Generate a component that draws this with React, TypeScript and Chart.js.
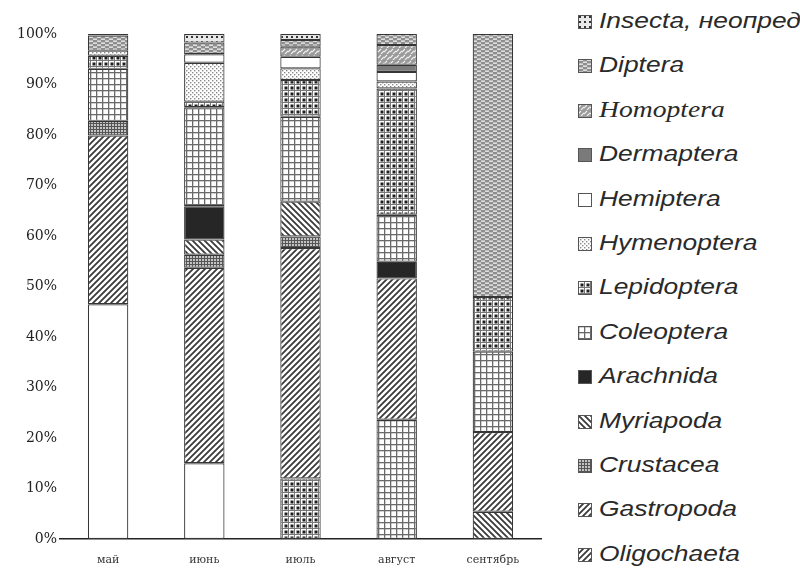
import React, { useEffect, useRef } from "react";
import { Chart, registerables } from "chart.js";
Chart.register(...registerables);

const categories = ["май", "июнь", "июль", "август", "сентябрь"];
const yTickValues = [0, 10, 20, 30, 40, 50, 60, 70, 80, 90, 100];

// stack order: bottom -> top
const oligochaeta = [46.5, 15.0, 12.0, 23.6, 5.4];
const gastropoda = [33.4, 38.7, 45.6, 28.0, 15.8];
const crustacea = [2.9, 2.6, 2.3, 0, 0];
const myriapoda = [0, 3.0, 6.9, 0, 0];
const arachnida = [0, 6.6, 0, 3.3, 0];
const coleoptera = [10.3, 19.6, 16.8, 9.3, 15.9];
const lepidoptera = [2.6, 1.1, 7.3, 25.0, 10.8];
const hymenoptera = [1.0, 7.7, 2.3, 1.4, 0];
const hemiptera = [0, 1.7, 2.3, 1.9, 0];
const dermaptera = [0, 0, 0, 1.4, 0];
const homoptera = [0, 0, 2.0, 3.9, 0];
const diptera = [3.0, 2.3, 1.3, 2.2, 52.1];
const insecta = [0.3, 1.7, 1.2, 0, 0];

const seriesNames = [
  "Oligochaeta", "Gastropoda", "Crustacea", "Myriapoda", "Arachnida", "Coleoptera",
  "Lepidoptera", "Hymenoptera", "Hemiptera", "Dermaptera", "Homoptera", "Diptera", "Insecta, неопред",
];
const seriesValues = [
  oligochaeta, gastropoda, crustacea, myriapoda, arachnida, coleoptera,
  lepidoptera, hymenoptera, hemiptera, dermaptera, homoptera, diptera, insecta,
];
const seriesPatterns = [
  "white", "hatchF", "fineGrid", "hatchB", "black", "grid",
  "checker", "dots", "white", "gray", "homo", "wave", "insecta",
];
const legendPatterns = [
  "hatchF", "hatchF", "fineGrid", "hatchB", "black", "grid",
  "checker", "dots", "white", "gray", "homo", "wave", "insecta",
];
// the scan shows the bottom segment filled differently in each bar
const oligochaetaBarPatterns = ["white", "white", "checker", "grid", "hatchB"];

function tile(w: number, h: number, draw: (c: CanvasRenderingContext2D) => void) {
  const cv = document.createElement("canvas");
  cv.width = w;
  cv.height = h;
  const c = cv.getContext("2d")!;
  draw(c);
  return c.createPattern(cv, "repeat")!;
}

function makePattern(kind: string): CanvasPattern | string {
  switch (kind) {
    case "white":
      return "#ffffff";
    case "black":
      return "#262626";
    case "gray":
      return "#7a7a7a";
    case "hatchF":
      return tile(6, 6, (c) => {
        c.fillStyle = "#fff"; c.fillRect(0, 0, 6, 6);
        c.strokeStyle = "#3a3a3a"; c.lineWidth = 1.8;
        c.beginPath();
        c.moveTo(-1, 7); c.lineTo(7, -1);
        c.moveTo(-1, 1); c.lineTo(1, -1);
        c.moveTo(5, 7); c.lineTo(7, 5);
        c.stroke();
      });
    case "hatchB":
      return tile(6, 6, (c) => {
        c.fillStyle = "#fff"; c.fillRect(0, 0, 6, 6);
        c.strokeStyle = "#3a3a3a"; c.lineWidth = 1.8;
        c.beginPath();
        c.moveTo(-1, -1); c.lineTo(7, 7);
        c.moveTo(5, -1); c.lineTo(7, 1);
        c.moveTo(-1, 5); c.lineTo(1, 7);
        c.stroke();
      });
    case "fineGrid":
      return tile(3, 3, (c) => {
        c.fillStyle = "#c4c4c4"; c.fillRect(0, 0, 3, 3);
        c.fillStyle = "#555"; c.fillRect(0, 0, 3, 1); c.fillRect(0, 0, 1, 3);
      });
    case "grid":
      return tile(6, 6, (c) => {
        c.fillStyle = "#fff"; c.fillRect(0, 0, 6, 6);
        c.fillStyle = "#6a6a6a"; c.fillRect(0, 0, 6, 1.3); c.fillRect(0, 0, 1.3, 6);
      });
    case "checker":
      return tile(6, 6, (c) => {
        c.fillStyle = "#fff"; c.fillRect(0, 0, 6, 6);
        c.fillStyle = "#777"; c.fillRect(0, 0, 6, 1); c.fillRect(0, 0, 1, 6);
        c.fillStyle = "#1e1e1e"; c.fillRect(2.5, 2.5, 3, 3);
      });
    case "dots":
      return tile(4, 4, (c) => {
        c.fillStyle = "#fff"; c.fillRect(0, 0, 4, 4);
        c.fillStyle = "#8a8a8a"; c.fillRect(0, 0, 1.4, 1.4); c.fillRect(2, 2, 1.4, 1.4);
      });
    case "wave":
      return tile(8, 4, (c) => {
        c.fillStyle = "#8e8e8e"; c.fillRect(0, 0, 8, 4);
        c.fillStyle = "#f2f2f2"; c.fillRect(1, 0.5, 4, 1.3); c.fillRect(5, 2.5, 4, 1.3); c.fillRect(-3, 2.5, 4, 1.3);
      });
    case "homo":
      return tile(6, 6, (c) => {
        c.fillStyle = "#9a9a9a"; c.fillRect(0, 0, 6, 6);
        c.strokeStyle = "#f0f0f0"; c.lineWidth = 1.2;
        c.beginPath(); c.moveTo(0, 4); c.lineTo(3, 1); c.moveTo(3, 6); c.lineTo(6, 3); c.stroke();
      });
    case "insecta":
      return tile(5, 5, (c) => {
        c.fillStyle = "#e8e8e8"; c.fillRect(0, 0, 5, 5);
        c.fillStyle = "#333"; c.fillRect(1, 1, 2, 2);
      });
    default:
      return "#fff";
  }
}

const legendTop = 22;
const legendStep = 44.4;

function LegendIcon({ kind }: { kind: string }) {
  const ref = useRef<HTMLCanvasElement>(null);
  useEffect(() => {
    const cv = ref.current!;
    const c = cv.getContext("2d")!;
    c.fillStyle = makePattern(kind) as any;
    c.fillRect(0, 0, 14, 14);
    c.strokeStyle = "#555";
    c.lineWidth = 1;
    c.strokeRect(0.5, 0.5, 13, 13);
  }, [kind]);
  return <canvas ref={ref} width={14} height={14} style={{ position: "absolute", left: 0, top: -7 }} />;
}

export default function App() {
  const canvasRef = useRef<HTMLCanvasElement>(null);

  useEffect(() => {
    const datasets = seriesNames.map((name, i) => ({
      label: name,
      data: seriesValues[i],
      backgroundColor:
        i === 0 ? oligochaetaBarPatterns.map((k) => makePattern(k)) : makePattern(seriesPatterns[i]),
      borderColor: "#363636",
      borderWidth: 1.2,
      borderSkipped: false as any,
      barPercentage: 0.42,
      categoryPercentage: 1,
    }));

    const chart = new Chart(canvasRef.current!, {
      type: "bar",
      data: { labels: categories, datasets: datasets as any },
      options: {
        animation: false,
        responsive: false,
        layout: { padding: { top: 34, right: 19, left: 0, bottom: 0 } },
        plugins: { legend: { display: false }, tooltip: { enabled: false } },
        scales: {
          x: {
            stacked: true,
            grid: { display: false, drawTicks: false },
            border: { display: true, color: "#222", width: 1.5 },
            ticks: {
              color: "#333",
              font: { family: "DejaVu Serif", size: 11 },
              padding: 15,
              maxRotation: 0,
            },
            afterFit: (s: any) => { s.height = 32; },
          },
          y: {
            stacked: true,
            min: 0,
            max: 100,
            afterBuildTicks: (s: any) => { s.ticks = yTickValues.map((v) => ({ value: v })); },
            grid: { display: false, drawTicks: false },
            border: { display: false },
            ticks: {
              color: "#222",
              font: { family: "DejaVu Serif", size: 14 },
              padding: 3,
              callback: (v: any) => v + "%",
            },
            afterFit: (s: any) => { s.width = 60; },
          },
        },
      },
    });
    return () => chart.destroy();
  }, []);

  const legendItems = seriesNames.map((n, i) => ({ name: n, kind: legendPatterns[i] })).reverse();

  return (
    <div style={{ position: "absolute", left: 0, top: 0, width: 800, height: 571, background: "#fff", overflow: "hidden" }}>
      <canvas ref={canvasRef} width={560} height={571} style={{ position: "absolute", left: 0, top: 0, width: 560, height: 571 }} />
      {legendItems.map((it, j) => (
        <div
          key={it.name}
          style={{ position: "absolute", left: 578, top: legendTop + j * legendStep, height: 0 }}
        >
          <LegendIcon kind={it.kind} />
          <span
            style={{
              position: "absolute",
              left: 21,
              top: -15,
              whiteSpace: "nowrap",
              fontStyle: "italic",
              fontFamily: it.name === "Homoptera" ? "'Liberation Serif', serif" : "'Liberation Sans', sans-serif",
              fontSize: it.name === "Homoptera" ? 23 : 22,
              lineHeight: "28px",
              color: "#2a2a2a",
              display: "inline-block",
              transform: "scaleX(1.2)",
              transformOrigin: "left center",
            }}
          >
            {it.name}
          </span>
        </div>
      ))}
    </div>
  );
}
